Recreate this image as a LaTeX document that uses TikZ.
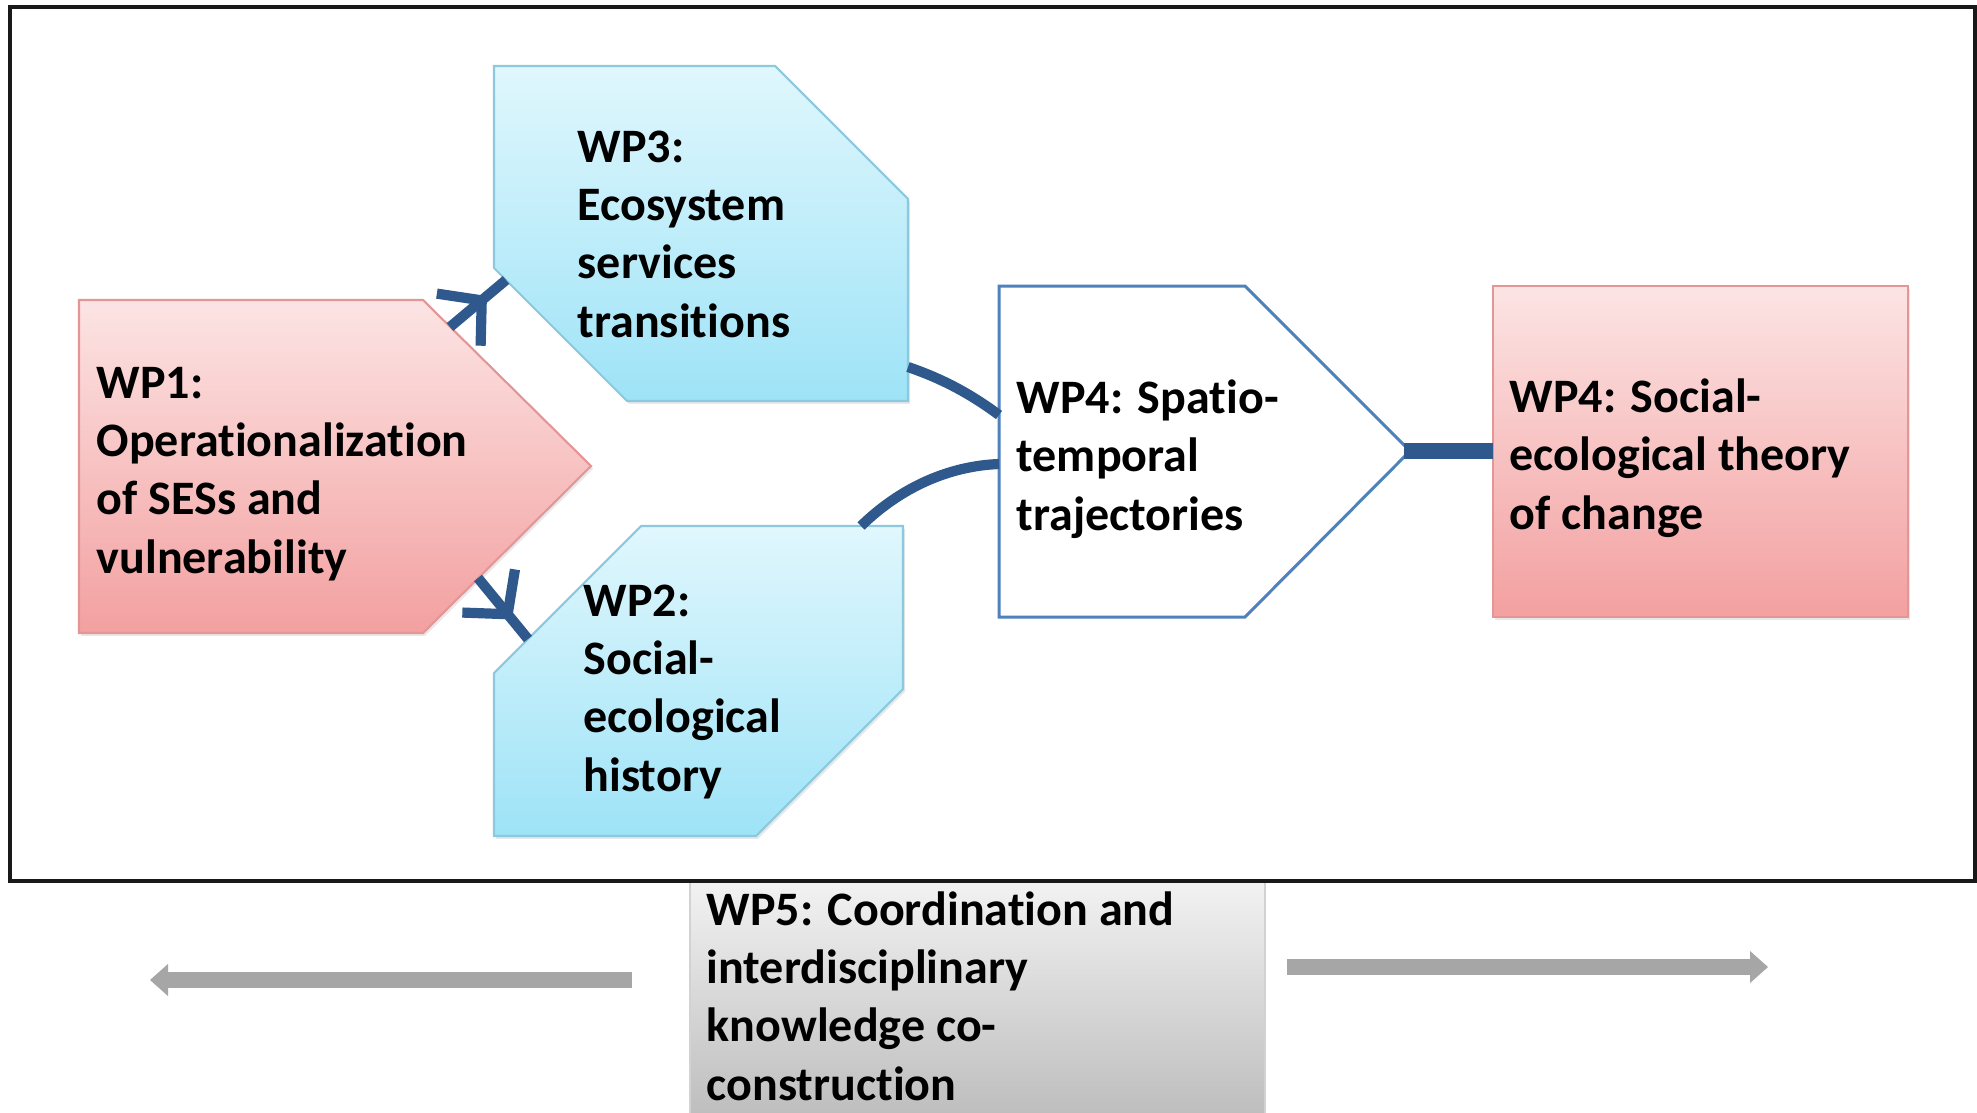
\documentclass[tikz,border=0pt]{standalone}
\usepackage{fontspec}
\setmainfont{Carlito}[Ligatures=NoCommon]
\usetikzlibrary{arrows.meta,decorations.markings,shadows}

\definecolor{linkblue}{RGB}{47,88,140}
\definecolor{pinktop}{RGB}{252,228,228}
\definecolor{pinkbot}{RGB}{243,160,160}
\definecolor{pinkline}{RGB}{228,150,150}
\definecolor{bluetop}{RGB}{224,247,253}
\definecolor{bluebot}{RGB}{158,227,247}
\definecolor{blueline}{RGB}{140,200,222}
\definecolor{wpline}{RGB}{79,129,189}
\definecolor{arrowgray}{RGB}{166,166,166}

\begin{document}
\begin{tikzpicture}[x=0.01cm, y=-0.01cm,
  % labels are placed by the baseline of their last line
  wptext/.style={font=\fontsize{13.66pt}{16.5pt}\selectfont\bfseries,
    align=left, inner sep=0pt, anchor=base west},
  pinkbox/.style={top color=pinktop, bottom color=pinkbot, draw=pinkline,
    line width=0.6pt, drop shadow={opacity=0.18, shadow xshift=0.6pt, shadow yshift=-0.8pt}},
  bluebox/.style={top color=bluetop, bottom color=bluebot, draw=blueline,
    line width=0.6pt, drop shadow={opacity=0.18, shadow xshift=0.6pt, shadow yshift=-0.8pt}},
  link/.style={color=linkblue, line width=2.9pt},
  barbed/.style={postaction={decorate}, decoration={markings,
    mark=at position #1 with {\arrow{Straight Barb[length=0.3cm, width=0.68cm]}}}},
  sidearrow/.style={color=arrowgray, line width=4.55pt,
    -{Triangle[length=0.18cm, width=0.32cm, line width=0pt]}}
]
\useasboundingbox (0,0) rectangle (1977,1112);
\fill[white] (0,0) rectangle (1977,1112);

% WP5 coordination box, running off the lower edge
\begin{scope}
  \clip (0,0) rectangle (1977,1112);
  \fill[top color=gray!10, bottom color=gray!52, draw=gray!35, line width=0.5pt]
    (690,880) rectangle (1265,1120);
\end{scope}

% outer frame
\draw[black!90, line width=0.95pt] (10,7) rectangle (1975,881);

% work package shapes
\filldraw[pinkbox] (79,300) -- (423,300) -- (591,466) -- (423,633) -- (79,633) -- cycle;
\filldraw[bluebox] (494,66) -- (775,66) -- (908,199) -- (908,401) -- (627,401) -- (494,268) -- cycle;
\filldraw[bluebox] (641,526) -- (903,526) -- (903,689) -- (756,836) -- (494,836) -- (494,673) -- cycle;
\filldraw[fill=white, draw=wpline, line width=0.85pt]
  (999,286) -- (1245,286) -- (1410,451) -- (1245,617) -- (999,617) -- cycle;
\filldraw[pinkbox] (1493,286) rectangle (1908,617);

% attachment points on the shape outlines
\coordinate (wp1-up)   at (450,327);
\coordinate (wp3-in)   at (506,280);
\coordinate (wp1-dn)   at (478,578);
\coordinate (wp2-in)   at (528,639);
\coordinate (wp3-out)  at (908,367);
\coordinate (wp2-out)  at (861,526);
\coordinate (wp4a-up)  at (999,415);
\coordinate (wp4a-dn)  at (999,464);
\coordinate (wp4a-tip) at (1404,451);
\coordinate (wp4b-in)  at (1493,451);
\coordinate (lft-tail) at (632,980);
\coordinate (lft-tip)  at (150,980);
\coordinate (rgt-tail) at (1287,967);
\coordinate (rgt-tip)  at (1768,967);

% connectors
\draw[link, barbed=0.66] (wp1-up) -- (wp3-in);
\draw[link, barbed=0.68] (wp1-dn) -- (wp2-in);
\draw[link] (wp3-out) .. controls (940,378) and (968,392) .. (wp4a-up);
\draw[link] (wp2-out) .. controls (900,488) and (948,466) .. (wp4a-dn);
\draw[color=linkblue, line width=4.3pt] (wp4a-tip) -- (wp4b-in);

% outward arrows beside WP5
\draw[sidearrow] (lft-tail) -- (lft-tip);
\draw[sidearrow] (rgt-tail) -- (rgt-tip);

% labels
\node[wptext] (t1) at (96,573) {WP1:\\Operationalization\\of SESs and\\vulnerability};
\node[wptext] (t3) at (577,337) {WP3:\\Ecosystem\\services\\transitions};
\node[wptext] (t2) at (583,791) {WP2:\\Social-\\ecological\\history};
\node[wptext] (t4a) at (1016,530) {WP4: Spatio-\\temporal\\trajectories};
\node[wptext] (t4b) at (1509,529) {WP4: Social-\\ecological theory\\of change};
\node[wptext] (t5) at (706,1100) {WP5: Coordination and\\interdisciplinary\\knowledge co-\\construction};
\end{tikzpicture}
\end{document}
